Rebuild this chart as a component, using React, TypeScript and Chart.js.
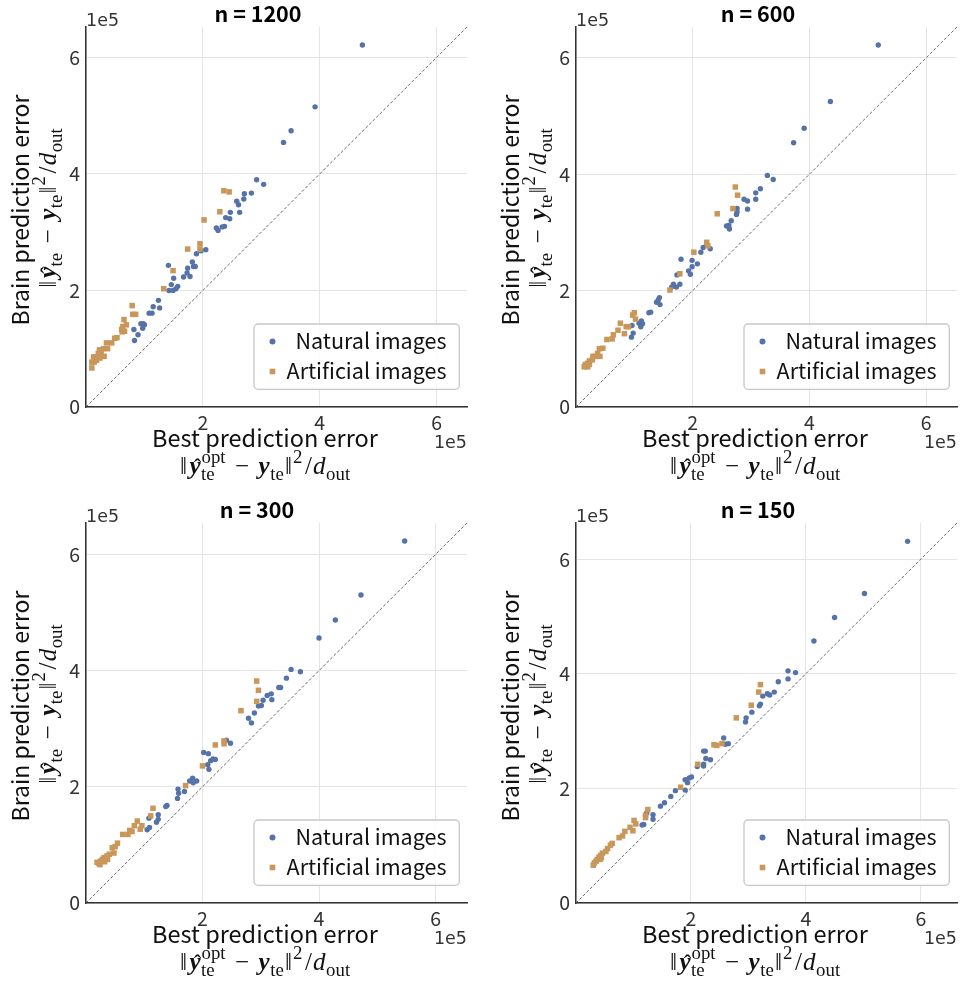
import React, { useEffect, useRef } from 'react';
import { Chart, registerables } from 'chart.js';

Chart.register(...registerables);

// ---------- data (values in units of 1e5) ----------
const SCALE = 1e5;
const TICK_VALUES = [0, 2, 4, 6];
const SERIES_LABELS = ['Natural images', 'Artificial images'];
const PANEL_TITLES = ['n = 1200', 'n = 600', 'n = 300', 'n = 150'];
const AXIS_LIMITS = [6.52, 6.53, 6.54, 6.63];

const natural1200X = [4.73, 3.92, 3.51, 3.38, 2.92, 3.04, 2.83, 2.71, 2.70, 2.58, 2.61, 2.63, 2.47, 2.39, 2.46, 2.37, 2.33, 2.23, 2.26, 2.05, 1.97, 1.89, 1.82, 1.84, 1.87, 1.74, 1.73, 1.78, 1.67, 1.41, 1.50, 1.46, 1.57, 1.54, 1.49, 1.42, 1.24, 1.26, 1.15, 1.13, 1.08, 0.98, 0.94, 1.00, 0.97, 0.82, 0.89, 0.83];
const natural1200Y = [6.21, 5.15, 4.74, 4.54, 3.90, 3.82, 3.67, 3.66, 3.57, 3.53, 3.47, 3.34, 3.34, 3.25, 3.23, 3.10, 3.09, 3.07, 3.03, 2.70, 2.68, 2.63, 2.49, 2.41, 2.41, 2.38, 2.30, 2.24, 2.23, 2.43, 2.21, 2.10, 2.07, 2.03, 2.00, 2.00, 1.83, 1.70, 1.72, 1.61, 1.61, 1.43, 1.43, 1.41, 1.35, 1.33, 1.24, 1.14];
const artificial1200X = [2.36, 2.45, 2.29, 2.02, 1.95, 1.95, 1.74, 1.49, 1.33, 0.79, 0.80, 0.85, 0.65, 0.69, 0.63, 0.61, 0.66, 0.62, 0.53, 0.49, 0.44, 0.35, 0.37, 0.30, 0.23, 0.26, 0.31, 0.21, 0.16, 0.13, 0.18, 0.14, 0.10, 0.10, 0.24];
const artificial1200Y = [3.71, 3.69, 3.35, 3.21, 2.80, 2.71, 2.71, 2.34, 2.03, 1.74, 1.59, 1.59, 1.50, 1.41, 1.38, 1.33, 1.30, 1.29, 1.19, 1.18, 1.10, 1.10, 1.00, 1.00, 0.98, 0.94, 0.87, 0.92, 0.86, 0.86, 0.80, 0.77, 0.77, 0.67, 0.84];

const natural600X = [5.18, 4.36, 3.91, 3.73, 3.28, 3.38, 3.16, 3.08, 3.08, 2.94, 2.88, 2.94, 2.76, 2.76, 2.75, 2.66, 2.62, 2.58, 2.63, 2.30, 2.18, 2.14, 2.08, 1.99, 1.99, 1.93, 1.96, 1.80, 1.78, 1.73, 1.67, 1.72, 1.64, 1.43, 1.41, 1.38, 1.44, 1.28, 1.25, 1.12, 1.08, 1.14, 1.11, 0.96, 0.98, 0.95];
const natural600Y = [6.22, 5.25, 4.79, 4.54, 3.98, 3.91, 3.75, 3.68, 3.57, 3.54, 3.57, 3.40, 3.41, 3.35, 3.31, 3.20, 3.12, 3.11, 3.06, 2.72, 2.74, 2.66, 2.46, 2.52, 2.41, 2.34, 2.28, 2.54, 2.11, 2.27, 2.11, 2.06, 2.06, 1.88, 1.84, 1.80, 1.76, 1.63, 1.62, 1.48, 1.44, 1.43, 1.38, 1.40, 1.27, 1.20];
const artificial600X = [2.73, 2.77, 2.69, 2.42, 2.24, 2.26, 2.02, 1.78, 1.61, 1.00, 0.97, 1.02, 0.76, 0.86, 0.90, 0.72, 0.83, 0.64, 0.62, 0.53, 0.46, 0.40, 0.37, 0.41, 0.33, 0.29, 0.28, 0.23, 0.20, 0.16, 0.14, 0.20, 0.23];
const artificial600Y = [3.78, 3.64, 3.41, 3.32, 2.83, 2.77, 2.66, 2.29, 2.01, 1.62, 1.58, 1.51, 1.44, 1.38, 1.38, 1.32, 1.26, 1.24, 1.17, 1.16, 1.01, 1.00, 0.92, 0.87, 0.87, 0.87, 0.81, 0.79, 0.75, 0.73, 0.69, 0.69, 0.73];

const natural300X = [5.47, 4.72, 4.28, 4.00, 3.52, 3.68, 3.44, 3.31, 3.34, 3.18, 3.11, 3.19, 3.04, 3.01, 2.96, 2.89, 2.79, 2.84, 2.41, 2.48, 2.02, 2.10, 2.18, 2.22, 2.14, 2.09, 2.11, 1.83, 1.78, 1.90, 1.84, 1.58, 1.59, 1.69, 1.57, 1.39, 1.37, 1.24, 1.24, 1.08, 1.21, 1.09, 1.05];
const natural300Y = [6.23, 5.30, 4.87, 4.56, 4.02, 3.98, 3.87, 3.71, 3.71, 3.60, 3.57, 3.50, 3.49, 3.40, 3.39, 3.27, 3.18, 3.10, 2.80, 2.75, 2.59, 2.57, 2.48, 2.47, 2.45, 2.38, 2.30, 2.15, 2.10, 2.10, 2.07, 1.96, 1.89, 1.92, 1.80, 1.68, 1.66, 1.52, 1.44, 1.46, 1.39, 1.30, 1.26];
const artificial300X = [2.93, 2.96, 2.93, 2.66, 2.37, 2.37, 2.22, 2.00, 1.71, 1.15, 1.11, 0.88, 0.96, 0.83, 0.93, 0.75, 0.79, 0.72, 0.63, 0.54, 0.50, 0.45, 0.48, 0.40, 0.36, 0.31, 0.28, 0.32, 0.25, 0.22, 0.19, 0.24, 0.37];
const artificial300Y = [3.82, 3.66, 3.47, 3.31, 2.79, 2.74, 2.72, 2.36, 2.02, 1.63, 1.50, 1.41, 1.33, 1.33, 1.27, 1.25, 1.23, 1.18, 1.18, 1.03, 0.97, 0.95, 0.86, 0.84, 0.81, 0.78, 0.75, 0.71, 0.72, 0.68, 0.70, 0.66, 0.75];

const natural150X = [5.77, 5.02, 4.50, 4.14, 3.69, 3.82, 3.69, 3.52, 3.45, 3.37, 3.33, 3.25, 3.21, 3.19, 3.06, 2.96, 2.95, 2.57, 2.65, 2.60, 2.22, 2.25, 2.26, 2.34, 2.22, 2.22, 2.11, 2.01, 1.97, 1.90, 1.94, 1.90, 1.73, 1.65, 1.54, 1.47, 1.34, 1.34, 1.23, 1.18, 1.15];
const natural150Y = [6.31, 5.40, 4.98, 4.57, 4.05, 4.02, 3.91, 3.86, 3.68, 3.63, 3.65, 3.61, 3.47, 3.44, 3.33, 3.23, 3.16, 2.88, 2.78, 2.77, 2.65, 2.65, 2.52, 2.50, 2.42, 2.39, 2.38, 2.20, 2.18, 2.15, 2.10, 1.97, 1.96, 1.86, 1.75, 1.69, 1.54, 1.46, 1.57, 1.37, 1.36];
const artificial150X = [3.21, 3.18, 3.05, 2.79, 2.54, 2.40, 2.45, 2.12, 1.82, 1.25, 1.21, 1.21, 1.01, 1.04, 0.94, 0.99, 0.85, 0.81, 0.75, 0.63, 0.60, 0.55, 0.52, 0.46, 0.43, 0.40, 0.37, 0.35, 0.32, 0.30, 0.42, 0.44];
const artificial150Y = [3.81, 3.68, 3.45, 3.23, 2.78, 2.76, 2.75, 2.42, 2.02, 1.63, 1.53, 1.49, 1.44, 1.38, 1.32, 1.26, 1.25, 1.17, 1.14, 1.04, 1.01, 0.95, 0.90, 0.87, 0.83, 0.80, 0.76, 0.73, 0.70, 0.66, 0.76, 0.79];

const NATURAL_X = [natural1200X, natural600X, natural300X, natural150X];
const NATURAL_Y = [natural1200Y, natural600Y, natural300Y, natural150Y];
const ARTIFICIAL_X = [artificial1200X, artificial600X, artificial300X, artificial150X];
const ARTIFICIAL_Y = [artificial1200Y, artificial600Y, artificial300Y, artificial150Y];

// ---------- style / layout ----------
const BLUE = '#5673a8';
const TAN = '#c9975a';
const FONT_SANS = "'Noto Sans CJK JP', 'Noto Sans', sans-serif";
const FONT_SERIF = "'Liberation Serif', 'DejaVu Serif', serif";
const FONT_OFFSET = "'DejaVu Sans', sans-serif";
const PLOT_LEFT = 86;
const PLOT_TOP = 27;
const PLOT_W = 381;
const PLOT_H = 380;

const BOXES = [
  { left: 0, top: 0, w: 481, h: 493, titleDx: 172 },
  { left: 490, top: 0, w: 472, h: 493, titleDx: 182 },
  { left: 0, top: 496, w: 481, h: 490, titleDx: 171 },
  { left: 490, top: 496, w: 472, h: 490, titleDx: 182 },
];

type Seg = { t: string; style?: string; s?: number; dy?: number; adv?: boolean; hat?: boolean; gap?: number; pre?: number };

const SUB = 0.75;
const X_MATH: Seg[] = [
  { t: '‖', gap: 0.1 },
  { t: 'y', style: 'italic bold', hat: true },
  { t: 'opt', s: SUB, dy: -0.45, adv: false, pre: 0.04 },
  { t: 'te', s: SUB, dy: 0.22, pre: 0.02 },
  { t: '−', pre: 0.38, gap: 0.38 },
  { t: 'y', style: 'italic bold' },
  { t: 'te', s: SUB, dy: 0.22, pre: 0.02, gap: 0.05 },
  { t: '‖', gap: 0.04 },
  { t: '2', s: SUB, dy: -0.45, gap: 0.1 },
  { t: '/', gap: 0.05 },
  { t: 'd', style: 'italic' },
  { t: 'out', s: SUB, dy: 0.22, pre: 0.02 },
];

const Y_MATH: Seg[] = [
  { t: '‖', gap: 0.1 },
  { t: 'y', style: 'italic bold', hat: true },
  { t: 'te', s: SUB, dy: 0.22, pre: 0.02 },
  { t: '−', pre: 0.38, gap: 0.38 },
  { t: 'y', style: 'italic bold' },
  { t: 'te', s: SUB, dy: 0.22, pre: 0.02, gap: 0.05 },
  { t: '‖', gap: 0.04 },
  { t: '2', s: SUB, dy: -0.45, gap: 0.1 },
  { t: '/', gap: 0.05 },
  { t: 'd', style: 'italic' },
  { t: 'out', s: SUB, dy: 0.22, pre: 0.02 },
];

function drawMath(ctx: CanvasRenderingContext2D, segs: Seg[], cx: number, baseline: number, size: number) {
  const fontOf = (sg: Seg) => `${sg.style || ''} ${(size * (sg.s || 1)).toFixed(1)}px ${FONT_SERIF}`;
  const offs: number[] = [];
  const widths: number[] = [];
  let w = 0;
  let pending = 0;
  for (const sg of segs) {
    ctx.font = fontOf(sg);
    const m = ctx.measureText(sg.t).width;
    const pre = (sg.pre || 0) * size;
    offs.push(w + pre);
    widths.push(m);
    if (sg.adv === false) {
      pending = Math.max(pending, m + pre);
    } else {
      w += Math.max(m + pre, pending) + (sg.gap || 0) * size;
      pending = 0;
    }
  }
  const x0 = cx - w / 2;
  ctx.textAlign = 'left';
  ctx.textBaseline = 'alphabetic';
  segs.forEach((sg, i) => {
    ctx.font = fontOf(sg);
    const x = x0 + offs[i];
    const y = baseline + (sg.dy || 0) * size;
    ctx.fillText(sg.t, x, y);
    if (sg.hat) {
      ctx.font = `${(size * 0.9).toFixed(1)}px ${FONT_SERIF}`;
      ctx.textAlign = 'center';
      ctx.fillText('ˆ', x + widths[i] / 2 + size * 0.1, y + size * 0.02);
      ctx.textAlign = 'left';
    }
  });
}

const decorPlugin = {
  id: 'decor',
  afterDraw(chart: any, _args: any, opts: any) {
    const { ctx, chartArea: a } = chart;
    ctx.save();
    // title
    ctx.fillStyle = '#000';
    ctx.font = `bold 21.5px ${FONT_SANS}`;
    ctx.textAlign = 'center';
    ctx.textBaseline = 'alphabetic';
    ctx.fillText(opts.title, a.left + opts.titleDx, a.top - 5.5);
    // offset texts
    ctx.fillStyle = '#333';
    ctx.font = `17.5px ${FONT_OFFSET}`;
    ctx.textAlign = 'left';
    ctx.fillText('1e5', a.left, a.top - 1);
    ctx.textAlign = 'right';
    ctx.fillText('1e5', a.right, a.bottom + 41);
    // x axis title
    ctx.fillStyle = '#111';
    ctx.font = `23.5px ${FONT_SANS}`;
    ctx.textAlign = 'center';
    ctx.fillText('Best prediction error', a.left + 179, a.bottom + 40);
    drawMath(ctx, X_MATH, a.left + 179, a.bottom + 67, 25);
    // y axis title
    ctx.save();
    ctx.translate(a.left - 57, a.top + 183);
    ctx.rotate(-Math.PI / 2);
    ctx.font = `23px ${FONT_SANS}`;
    ctx.textAlign = 'center';
    ctx.fillText('Brain prediction error', 0, 0);
    ctx.restore();
    ctx.save();
    ctx.translate(a.left - 30, a.top + 181);
    ctx.rotate(-Math.PI / 2);
    drawMath(ctx, Y_MATH, 0, 0, 25);
    ctx.restore();
    // legend
    const bx0 = a.right - 213;
    const bx1 = a.right - 7.7;
    const by0 = a.bottom - 83;
    const by1 = a.bottom - 17.7;
    ctx.beginPath();
    ctx.roundRect(bx0, by0, bx1 - bx0, by1 - by0, 4);
    ctx.fillStyle = 'rgba(255,255,255,0.85)';
    ctx.fill();
    ctx.strokeStyle = '#c8c8c8';
    ctx.lineWidth = 1.3;
    ctx.stroke();
    const mx = a.right - 194.5;
    ctx.fillStyle = BLUE;
    ctx.beginPath();
    ctx.arc(mx, a.bottom - 65.5, 3, 0, Math.PI * 2);
    ctx.fill();
    ctx.fillStyle = TAN;
    ctx.fillRect(mx - 2.8, a.bottom - 35.5 - 2.8, 5.6, 5.6);
    ctx.fillStyle = '#111';
    ctx.font = `21.5px ${FONT_SANS}`;
    ctx.textAlign = 'right';
    ctx.fillText(opts.labels[0], a.right - 20.5, a.bottom - 58);
    ctx.fillText(opts.labels[1], a.right - 20.5, a.bottom - 27.7);
    ctx.restore();
  },
};

const setTicks = (s: any) => {
  s.ticks = TICK_VALUES.map((v) => ({ value: v * SCALE }));
};

function Panel({ idx }: { idx: number }) {
  const ref = useRef<HTMLCanvasElement>(null);
  const box = BOXES[idx];
  useEffect(() => {
    if (!ref.current) return;
    const lim = AXIS_LIMITS[idx] * SCALE;
    const natural = NATURAL_X[idx].map((x, i) => ({ x: x * SCALE, y: NATURAL_Y[idx][i] * SCALE }));
    const artificial = ARTIFICIAL_X[idx].map((x, i) => ({ x: x * SCALE, y: ARTIFICIAL_Y[idx][i] * SCALE }));
    const tickFont = { family: FONT_SANS, size: 19.5 };
    const chart = new Chart(ref.current, {
      type: 'scatter',
      data: {
        datasets: [
          {
            label: SERIES_LABELS[0],
            data: natural,
            backgroundColor: BLUE,
            borderWidth: 0,
            pointStyle: 'circle',
            pointRadius: 2.7,
            order: 1,
          },
          {
            label: SERIES_LABELS[1],
            data: artificial,
            backgroundColor: TAN,
            borderWidth: 0,
            pointStyle: 'rect',
            pointRadius: 3.9,
            order: 0,
          },
          {
            type: 'line',
            label: 'y = x',
            data: [
              { x: 0, y: 0 },
              { x: lim, y: lim },
            ],
            borderColor: '#444',
            borderWidth: 0.8,
            borderDash: [3, 2],
            pointRadius: 0,
            fill: false,
            order: 2,
          } as any,
        ],
      },
      options: {
        responsive: false,
        animation: false,
        devicePixelRatio: 1,
        events: [],
        layout: { padding: { top: PLOT_TOP, right: box.w - PLOT_LEFT - PLOT_W, left: 0, bottom: 0 } },
        plugins: {
          legend: { display: false },
          tooltip: { enabled: false },
          decor: { title: PANEL_TITLES[idx], titleDx: box.titleDx, labels: SERIES_LABELS },
        } as any,
        scales: {
          x: {
            type: 'linear',
            bounds: 'data',
            min: 0,
            max: lim,
            afterBuildTicks: setTicks,
            afterFit: (s: any) => {
              s.height = box.h - PLOT_TOP - PLOT_H;
            },
            ticks: {
              maxRotation: 0,
              autoSkip: false,
              padding: 4,
              color: '#333',
              font: tickFont,
              callback: (v: any) => {
                const k = Math.round(Number(v) / SCALE);
                return k === 0 ? '' : String(k);
              },
            },
            grid: { color: '#e5e5e5', lineWidth: 1, drawTicks: false },
            border: { color: '#333', width: 1.5 },
          },
          y: {
            type: 'linear',
            bounds: 'data',
            min: 0,
            max: lim,
            afterBuildTicks: setTicks,
            afterFit: (s: any) => {
              s.width = PLOT_LEFT;
            },
            ticks: {
              autoSkip: false,
              padding: 6,
              color: '#333',
              font: tickFont,
              callback: (v: any) => String(Math.round(Number(v) / SCALE)),
            },
            grid: { color: '#e5e5e5', lineWidth: 1, drawTicks: false },
            border: { color: '#333', width: 1.5 },
          },
        },
      } as any,
      plugins: [decorPlugin],
    });
    return () => chart.destroy();
  }, [idx]);
  return (
    <canvas
      ref={ref}
      width={box.w}
      height={box.h}
      style={{ position: 'absolute', left: box.left, top: box.top, width: box.w, height: box.h }}
    />
  );
}

export default function App() {
  return (
    <div style={{ position: 'absolute', left: 0, top: 0, width: 962, height: 986, background: '#fff' }}>
      {[0, 1, 2, 3].map((i) => (
        <Panel key={i} idx={i} />
      ))}
    </div>
  );
}
